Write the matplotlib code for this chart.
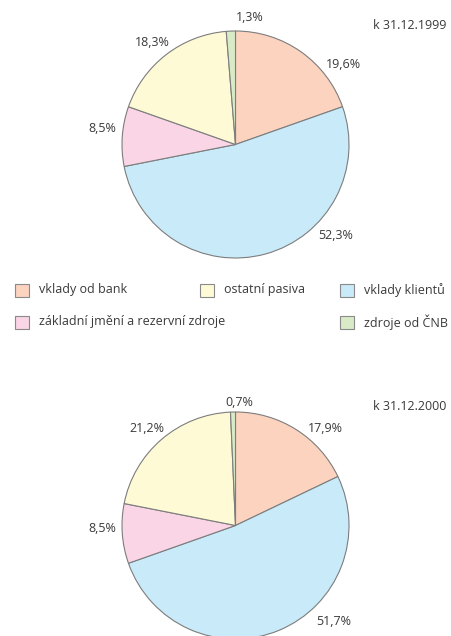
import matplotlib
matplotlib.use("Agg")
import matplotlib.pyplot as plt
from matplotlib.patches import Rectangle

plt.rcParams['font.family'] = ['Open Sans', 'DejaVu Sans']

# categories in drawing order (clockwise from 12 o'clock)
categories = ['vklady od bank', 'vklady klientů', 'základní jmění a rezervní zdroje',
              'ostatní pasiva', 'zdroje od ČNB']
colors = ['#fbd3bf', '#c8eaf9', '#f9d5e6', '#fffad6', '#d8ebc6']

values_1999 = [19.6, 52.3, 8.5, 18.3, 1.3]
values_2000 = [17.9, 51.7, 8.5, 21.2, 0.7]
titles = ['k 31.12.1999', 'k 31.12.2000']

# label spots around each pie, in pie radius units
label_pos_1999 = [(0.947, 0.708), (0.885, -0.805), (-1.177, 0.142), (-0.735, 0.903), (0.124, 1.115)]
label_pos_2000 = [(0.788, 0.858), (0.867, -0.850), (-1.177, -0.027), (-0.779, 0.858), (0.035, 1.088)]

W, H = 451, 636
R = 113.5
fig = plt.figure(figsize=(W / 100, H / 100), dpi=100)

text_color = '#3a3a3a'
edge = '#7d7d7d'


def draw_pie(cx, cy, values, label_pos, title):
    half = 1.4 * R
    ax = fig.add_axes([(cx - half) / W, (H - cy - half) / H, 2 * half / W, 2 * half / H])
    ax.pie(values, colors=colors, startangle=90, counterclock=False, radius=1,
           wedgeprops=dict(edgecolor=edge, linewidth=0.8))
    for v, (x, y) in zip(values, label_pos):
        ax.text(x, y, f"{v:.1f}".replace('.', ',') + '%', ha='center', va='center',
                fontsize=9, color=text_color, clip_on=False)
    ax.set_xlim(-1.4, 1.4)
    ax.set_ylim(-1.4, 1.4)
    ax.axis('off')
    fig.text(446 / W, 1 - (cy - 119) / H, title, ha='right', va='center',
             fontsize=9, color=text_color)


draw_pie(235.5, 144.5, values_1999, label_pos_1999, titles[0])
draw_pie(235.5, 525.5, values_2000, label_pos_2000, titles[1])

# legend, laid out as in the source
legend_spots = [(15, 290), (340, 290), (15, 322), (200, 290), (340, 322)]
lax = fig.add_axes([0, 0, 1, 1])
lax.set_xlim(0, W)
lax.set_ylim(H, 0)
lax.axis('off')
for name, col, (x, y) in zip(categories, colors, legend_spots):
    lax.add_patch(Rectangle((x, y - 6.5), 14, 13, facecolor=col, edgecolor='#8a8a8a', linewidth=0.8))
    lax.text(x + 24, y, name, ha='left', va='center', fontsize=9, color=text_color)

fig.savefig('out.png', dpi=100)
